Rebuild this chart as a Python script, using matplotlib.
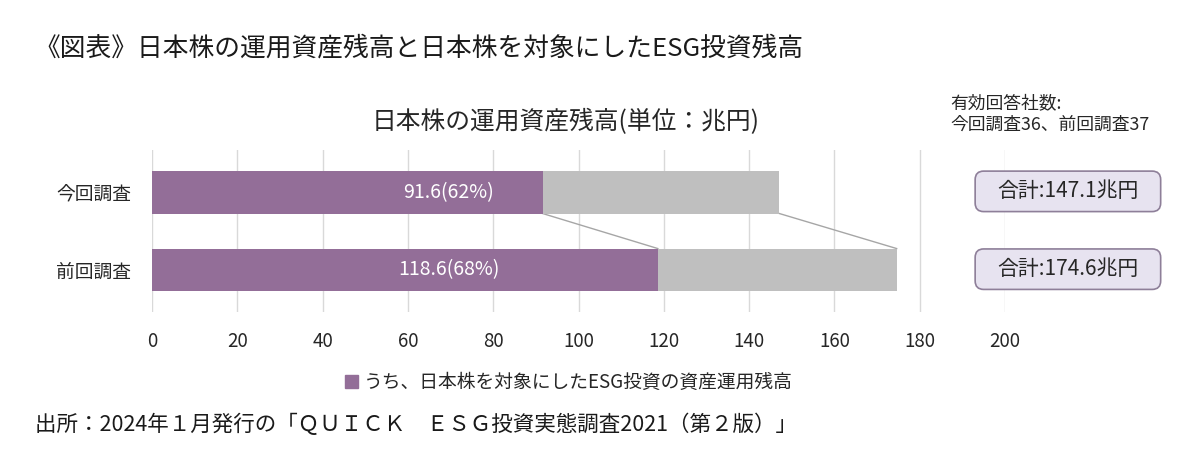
import matplotlib
matplotlib.use('Agg')
import matplotlib.pyplot as plt
from matplotlib.patches import FancyBboxPatch, Patch

plt.rcParams['font.family'] = ['Noto Sans CJK JP', 'DejaVu Sans']

# data (兆円)
categories = ['今回調査', '前回調査']
esg_amount = [91.6, 118.6]
total_amount = [147.1, 174.6]
esg_share = [62, 68]
xticks = [0, 20, 40, 60, 80, 100, 120, 140, 160, 180, 200]

purple = '#936e98'
grey = '#bfbfbf'
txt = '#262626'

fig = plt.figure(figsize=(12, 4.72), dpi=100)
ax = fig.add_axes([0.1267, 0.339, 0.7108, 0.343])

ypos = list(range(len(categories)))
h = 0.55
rest = [t - e for t, e in zip(total_amount, esg_amount)]
ax.barh(ypos, esg_amount, height=h, color=purple, zorder=3)
ax.barh(ypos, rest, left=esg_amount, height=h, color=grey, zorder=3)

# series lines between the bars
for i in range(len(categories) - 1):
    ax.plot([esg_amount[i], esg_amount[i + 1]], [i + h / 2, i + 1 - h / 2],
            color='#a6a6a6', lw=1, zorder=2)
    ax.plot([total_amount[i], total_amount[i + 1]], [i + h / 2, i + 1 - h / 2],
            color='#a6a6a6', lw=1, zorder=2)

# labels inside purple bars
for i, (v, s) in enumerate(zip(esg_amount, esg_share)):
    ax.text(69.5, i, f'{v}({s}%)', color='white', fontsize=14,
            ha='center', va='center', zorder=4)

# total boxes on the right
for i, t in enumerate(total_amount):
    box = FancyBboxPatch((193, i - 0.27), 43.5, 0.52,
                         boxstyle='round,pad=0,rounding_size=2',
                         mutation_aspect=0.0547,
                         facecolor='#e7e3f0', edgecolor='#8e7f99', lw=1.2,
                         clip_on=False, zorder=3)
    ax.add_patch(box)
    ax.text(214.75, i - 0.01, f'合計:{t}兆円', fontsize=15, color=txt,
            ha='center', va='center', clip_on=False, zorder=4)

ax.set_xlim(0, 200)
ax.set_ylim(1.54, -0.54)
ax.set_xticks(xticks)
ax.set_yticks(ypos)
ax.set_yticklabels(categories)
ax.grid(axis='x', color='#d9d9d9', lw=1, zorder=0)
ax.set_axisbelow(True)
for sp in ax.spines.values():
    sp.set_visible(False)
ax.tick_params(axis='x', length=0, pad=14, labelsize=13.5, labelcolor=txt)
ax.tick_params(axis='y', length=0, pad=15, labelsize=13.5, labelcolor=txt)

fig.text(0.029, 0.898, '《図表》日本株の運用資産残高と日本株を対象にしたESG投資残高',
         fontsize=18.5, color='#1a1a1a', va='center')
fig.text(0.471, 0.742, '日本株の運用資産残高(単位：兆円)', fontsize=17.8,
         color=txt, ha='center', va='center')
fig.text(0.792, 0.782, '有効回答社数:', fontsize=12.8, color=txt, va='center')
fig.text(0.792, 0.735, '今回調査36、前回調査37', fontsize=12.8, color=txt, va='center')

fig.legend(handles=[Patch(color=purple, label='うち、日本株を対象にしたESG投資の資産運用残高')],
           loc='center', bbox_to_anchor=(0.474, 0.189), frameon=False,
           fontsize=13.5, handlelength=0.7, handleheight=0.7, handletextpad=0.3,
           labelcolor=txt)

fig.text(0.029, 0.1, '出所：2024年１月発行の「ＱＵＩＣＫ　ＥＳＧ投資実態調査2021（第２版）」',
         fontsize=15.5, color='#1a1a1a', va='center')

fig.savefig('out.png', dpi=100)
